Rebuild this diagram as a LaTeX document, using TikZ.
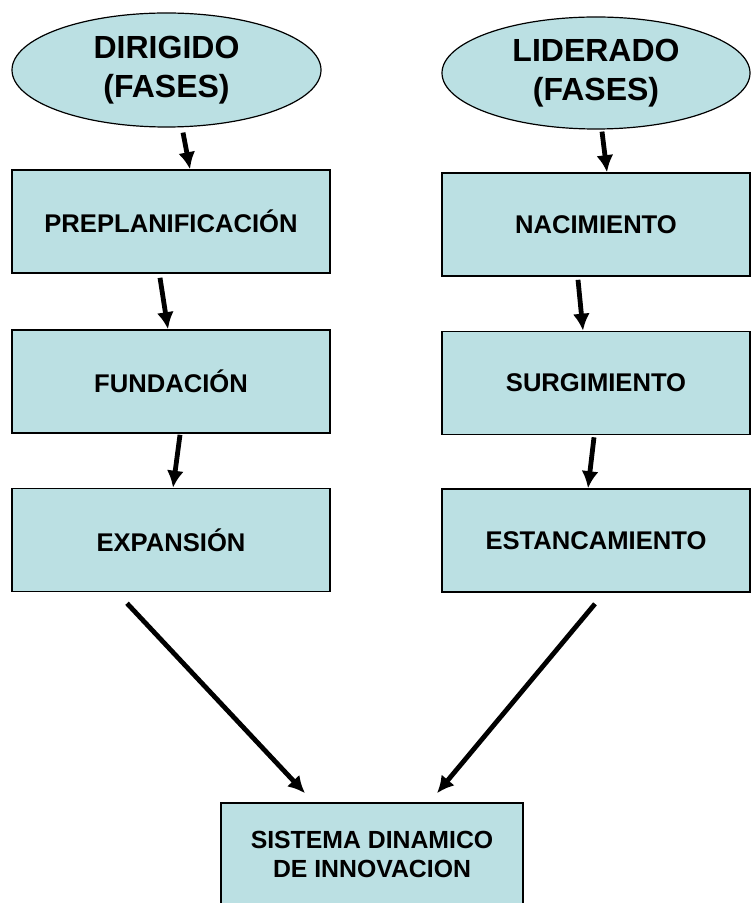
\documentclass[tikz,border=0pt]{standalone}
\usepackage{fontspec}
\setmainfont{Liberation Sans}
\usepackage{tikz}
\usetikzlibrary{arrows.meta,shapes.geometric}
\definecolor{celeste}{RGB}{187,224,227}

\begin{document}
\begin{tikzpicture}[x=0.5pt, y=-0.5pt,
		fase/.style={ellipse, draw, fill=celeste, line width=0.6pt, inner sep=0pt, minimum width=154.5pt, minimum height=57pt, align=center, font=\fontsize{16}{19.5}\selectfont\bfseries},
		etapa/.style={rectangle, draw, fill=celeste, line width=0.8pt, minimum width=159pt, minimum height=51.5pt, align=center, font=\fontsize{12.8}{14.5}\selectfont\bfseries},
		flecha/.style={-{Latex[length=8.5pt,width=8.5pt]}, line width=2.4pt}]
				\useasboundingbox (0,0) rectangle (751,903);
				% columna izquierda
				\node [fase] (dir) at (166.5,70) {DIRIGIDO\\(FASES)};
				\node [etapa] (pre) at (171,221.5) {PREPLANIFICACIÓN};
				\node [etapa] (fun) at (171,381.5) {FUNDACIÓN};
				\node [etapa] (exp) at (171,540) {EXPANSIÓN};
				% columna derecha
				\node [fase, minimum width=154pt, minimum height=56pt] (lid) at (596,73) {LIDERADO\\(FASES)};
				\node [etapa, minimum width=154pt] (nac) at (596,224.5) {NACIMIENTO};
				\node [etapa, minimum width=154pt] (sur) at (596,383) {SURGIMIENTO};
				\node [etapa, minimum width=154pt] (est) at (596,540.5) {ESTANCAMIENTO};
				% resultado
				\node [etapa, minimum width=151pt, font=\fontsize{12.4}{14.5}\selectfont\bfseries] (sis) at (372,854.5) {SISTEMA DINAMICO\\DE INNOVACION};
				% flechas
				\draw [flecha] ([xshift=8.25pt,yshift=-2.5pt]dir.south) -- ([xshift=9.5pt]pre.north);
				\draw [flecha] ([xshift=-5.5pt,yshift=-2pt]pre.south) -- ([xshift=-1.5pt]fun.north);
				\draw [flecha] ([xshift=4.5pt,yshift=-0.5pt]fun.south) -- ([xshift=1pt]exp.north);
				\draw [flecha] ([xshift=3pt,yshift=-1pt]lid.south) -- ([xshift=5.5pt]nac.north);
				\draw [flecha] ([xshift=-9pt,yshift=-1.5pt]nac.south) -- ([xshift=-6.5pt]sur.north);
				\draw [flecha] ([xshift=-1pt,yshift=-1pt]sur.south) -- ([xshift=-4pt]est.north);
				\draw [flecha] ([xshift=-22pt,yshift=-5.5pt]exp.south) -- ([xshift=-33.5pt,yshift=4.5pt]sis.north);
				\draw [flecha] ([xshift=-0.5pt,yshift=-5.5pt]est.south) -- ([xshift=32.5pt,yshift=4.5pt]sis.north);
			\end{tikzpicture}
\end{document}
